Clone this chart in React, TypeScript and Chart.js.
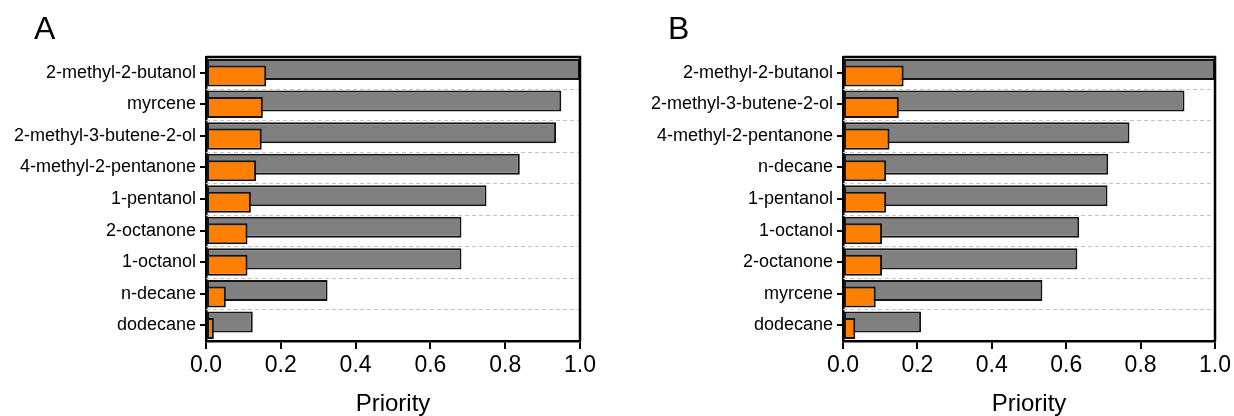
import React, { useEffect, useRef } from "react";
import { Chart, registerables } from "chart.js";

Chart.register(...registerables);

const labelsA = [
  "2-methyl-2-butanol",
  "myrcene",
  "2-methyl-3-butene-2-ol",
  "4-methyl-2-pentanone",
  "1-pentanol",
  "2-octanone",
  "1-octanol",
  "n-decane",
  "dodecane",
];
const grayA = [1.0, 0.95, 0.936, 0.839, 0.75, 0.683, 0.683, 0.325, 0.125];
const orangeA = [0.161, 0.152, 0.149, 0.134, 0.12, 0.111, 0.111, 0.053, 0.021];

const labelsB = [
  "2-methyl-2-butanol",
  "2-methyl-3-butene-2-ol",
  "4-methyl-2-pentanone",
  "n-decane",
  "1-pentanol",
  "1-octanol",
  "2-octanone",
  "myrcene",
  "dodecane",
];
const grayB = [1.0, 0.918, 0.77, 0.713, 0.711, 0.635, 0.63, 0.536, 0.21];
const orangeB = [0.163, 0.15, 0.125, 0.116, 0.116, 0.105, 0.105, 0.088, 0.033];

const xTickValues = [0, 0.2, 0.4, 0.6, 0.8, 1.0];
const xTitle = "Priority";

const FONT = "Arial, 'Liberation Sans', Helvetica, sans-serif";

const panelPlugin = {
  id: "panelDecor",
  beforeDatasetDraw(chart: any, args: any) {
    if (args.index === 1 && !chart.$lateDraw) return false;
    return true;
  },
  beforeDatasetsDraw(chart: any) {
    const { ctx, chartArea } = chart;
    const y = chart.scales.y;
    const n = chart.data.labels.length;
    ctx.save();
    ctx.strokeStyle = "#c4c4c4";
    ctx.lineWidth = 1;
    ctx.setLineDash([4, 3]);
    for (let i = 0; i < n - 1; i++) {
      const py = Math.round((y.getPixelForValue(i) + y.getPixelForValue(i + 1)) / 2) + 0.5;
      ctx.beginPath();
      ctx.moveTo(chartArea.left, py);
      ctx.lineTo(chartArea.right, py);
      ctx.stroke();
    }
    ctx.restore();
  },
  afterDatasetsDraw(chart: any) {
    chart.$lateDraw = true;
    const meta = chart.getDatasetMeta(1);
    const { ctx, chartArea } = chart;
    ctx.save();
    ctx.beginPath();
    ctx.rect(chartArea.left, chartArea.top, chartArea.right - chartArea.left, chartArea.bottom - chartArea.top);
    ctx.clip();
    meta.controller.draw();
    ctx.restore();
    chart.$lateDraw = false;
  },
  afterDraw(chart: any) {
    const { ctx, chartArea } = chart;
    ctx.save();
    ctx.strokeStyle = "#000";
    ctx.lineWidth = 2.5;
    ctx.beginPath();
    ctx.moveTo(chartArea.left, chartArea.top);
    ctx.lineTo(chartArea.right, chartArea.top);
    ctx.lineTo(chartArea.right, chartArea.bottom);
    ctx.stroke();
    ctx.restore();
  },
};

function makeConfig(labels: string[], gray: number[], orange: number[], yWidth: number, padRight: number): any {
  return {
    type: "bar",
    data: {
      labels,
      datasets: [
        {
          data: gray,
          backgroundColor: "#808080",
          borderColor: "#141414",
          borderWidth: 2,
          borderSkipped: false,
          categoryPercentage: 0.41,
          barPercentage: 3.25,
        },
        {
          data: orange,
          backgroundColor: "#ff8000",
          borderColor: "#141414",
          borderWidth: 2,
          borderSkipped: false,
          categoryPercentage: 0.41,
          barPercentage: 3.25,
        },
      ],
    },
    options: {
      indexAxis: "y",
      responsive: false,
      animation: false,
      devicePixelRatio: 1,
      layout: { padding: { top: 57, right: padRight, left: 0, bottom: 0 } },
      plugins: {
        legend: { display: false },
        tooltip: { enabled: false },
        title: { display: false },
      },
      scales: {
        x: {
          type: "linear",
          min: 0,
          max: 1,
          afterBuildTicks: (scale: any) => {
            scale.ticks = xTickValues.map((v) => ({ value: v }));
          },
          afterFit: (scale: any) => {
            scale.height = 75;
          },
          ticks: {
            color: "#000",
            font: { family: FONT, size: 23 },
            padding: 3,
            maxRotation: 0,
            callback: (v: any) => Number(v).toFixed(1),
          },
          grid: {
            display: true,
            drawOnChartArea: false,
            drawTicks: true,
            tickLength: 8,
            color: "#000",
            lineWidth: 2,
          },
          border: { display: true, color: "#000", width: 2.5 },
          title: {
            display: true,
            text: xTitle,
            color: "#000",
            font: { family: FONT, size: 24, lineHeight: 1 },
            padding: { top: 0, bottom: 0 },
          },
        },
        y: {
          type: "category",
          offset: true,
          afterFit: (scale: any) => {
            scale.width = yWidth;
          },
          ticks: {
            color: "#000",
            font: { family: FONT, size: 18 },
            padding: 4,
            autoSkip: false,
          },
          grid: {
            display: true,
            offset: false,
            drawOnChartArea: false,
            drawTicks: true,
            tickLength: 6,
            color: "#000",
            lineWidth: 2,
          },
          border: { display: true, color: "#000", width: 2.5 },
        },
      },
    },
    plugins: [panelPlugin],
  };
}

export default function App() {
  const refA = useRef<HTMLCanvasElement | null>(null);
  const refB = useRef<HTMLCanvasElement | null>(null);

  useEffect(() => {
    const a = new Chart(refA.current as HTMLCanvasElement, makeConfig(labelsA, grayA, orangeA, 206, 40));
    const b = new Chart(refB.current as HTMLCanvasElement, makeConfig(labelsB, grayB, orangeB, 223, 18));
    return () => {
      a.destroy();
      b.destroy();
    };
  }, []);

  const letterStyle: React.CSSProperties = {
    position: "absolute",
    top: 12,
    fontFamily: FONT,
    fontSize: 32,
    lineHeight: "32px",
    color: "#000",
  };

  return (
    <div style={{ position: "absolute", left: 0, top: 0, width: 1234, height: 416, background: "#fff", overflow: "hidden" }}>
      <div style={{ position: "absolute", left: 0, top: 0, width: 620, height: 416 }}>
        <canvas ref={refA} width={620} height={416} style={{ display: "block" }} />
      </div>
      <div style={{ position: "absolute", left: 620, top: 0, width: 614, height: 416 }}>
        <canvas ref={refB} width={614} height={416} style={{ display: "block" }} />
      </div>
      <div style={{ ...letterStyle, left: 34 }}>A</div>
      <div style={{ ...letterStyle, left: 668 }}>B</div>
    </div>
  );
}
